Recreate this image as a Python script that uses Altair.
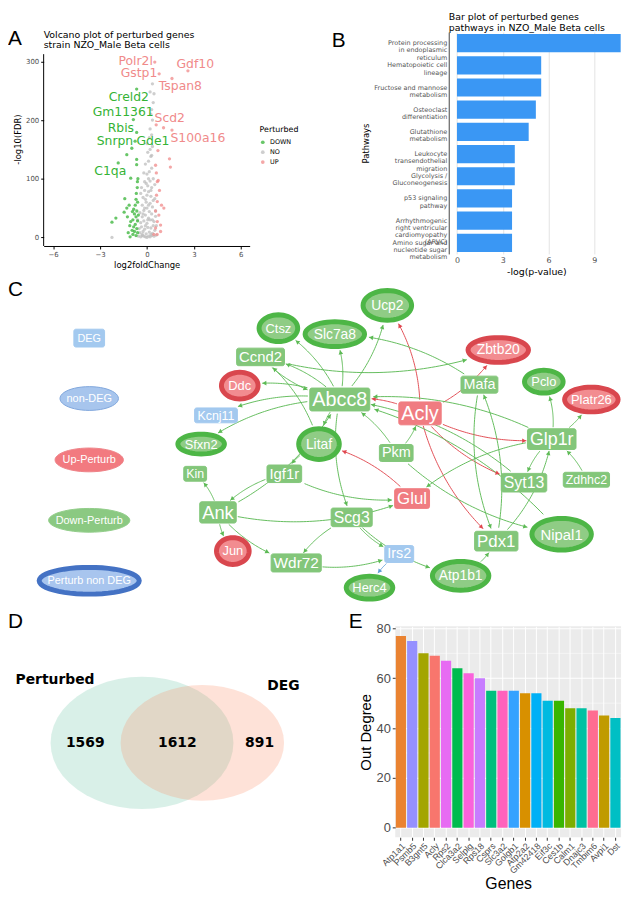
import math
import altair as alt
import pandas as pd

# ---------------- Panel A: volcano plot data ----------------
no_lfc = [-2.24, -0.55, -0.4, -0.3, -0.2, -0.1, 0.0, 0.1, 0.2, 0.3, 0.45, 0.6,
          -0.45, -0.25, -0.05, 0.15, 0.35, 0.5, -0.5, -0.35, -0.15, 0.05, 0.25, 0.4,
          -0.4, -0.2, 0.0, 0.2, 0.45, -0.3, -0.1, 0.1, 0.3, 0.55,
          -0.45, -0.2, 0.0, 0.15, 0.35, -0.3, -0.05, 0.2, 0.4,
          -0.25, 0.0, 0.25, 0.5, -0.15, 0.1, 0.3, -0.05, 0.2, 0.4,
          0.0, 0.15, 0.3, -0.1, 0.1, 0.25, 0.05, 0.2, 0.35,
          0.0, 0.15, 0.3, 0.2, 0.35, 0.25, 0.3, 0.4, 0.2, 0.35, 0.45,
          -0.15, -0.35, -0.4, 0.5, 0.55, 0.6, -0.6,
          -0.1, 0.05, -0.25, 0.1, -0.1, 0.25, 0.05, -0.3, 0.25, -0.15, 0.35, 0.1, -0.2, 0.3]
no_fdr = [0, 2, 1, 3, 2, 1, 0, 2, 1, 3, 2, 4,
          8, 10, 6, 9, 7, 12, 15, 18, 14, 17, 16, 20,
          25, 28, 24, 30, 27, 35, 38, 33, 40, 36,
          42, 46, 50, 44, 52, 55, 60, 58, 63,
          68, 72, 70, 66, 80, 78, 85, 92, 96, 100,
          108, 112, 118, 125, 130, 138, 145, 150, 155,
          160, 170, 175, 185, 200, 210, 218, 230, 248, 262, 245,
          95, 85, 75, 90, 45, 20, 30,
          20, 30, 40, 55, 65, 80, 88, 5, 5, 50, 30, 100, 110, 140]
down_lfc = [-2.24, -1.99, -1.42, -1.14, -1.29, -1.04, -0.93, -1.46, -1.08, -0.66, -0.66, -1.04,
            -0.61, -1.29, -1.84, -0.66, -0.87, -0.66, -0.76, -0.97,
            -0.9, -0.8, -0.7, -0.6, -0.85, -0.75, -0.65, -0.9, -0.7, -0.6, -0.8, -0.65,
            -0.75, -0.6, -0.7, -0.85, -0.55, -0.95, -0.68, -0.62, -1.2, -1.1, -1.25, -0.58]
down_fdr = [26, 33, 66, 55, 50, 27, 44, 43, 1, 133, 124, 101,
            95, 141, 127, 253, 201, 179, 164, 152,
            5, 10, 3, 8, 18, 22, 15, 30, 35, 28, 40, 45,
            55, 60, 65, 48, 38, 12, 75, 85, 8, 20, 35, 100]
up_lfc = [0.7, 1.44, 1.5, 0.55, 0.72, 0.66, 0.61, 0.66, 0.93, 1.08, 0.76, 0.66, 0.87,
          0.55, 0.87, 0.44, 0.6, 0.8, 0.55, 0.65,
          0.5, 2.62, 0.78, 1.6, 0.59, 1.6, 1.06]
up_fdr = [148, 134, 120, 123, 97, 95, 72, 61, 55, 50, 38, 27, 21,
          16, 10, 5, 110, 80, 45, 5,
          299, 284, 279, 271, 192, 183, 187]
label_genes = ["Polr2l", "Gdf10", "Gstp1", "Tspan8", "Creld2", "Gm11361",
               "Scd2", "Rbis", "S100a16", "Snrpn", "Gde1", "C1qa"]
label_group = ["UP", "UP", "UP", "UP", "DOWN", "DOWN",
               "UP", "DOWN", "UP", "DOWN", "DOWN", "DOWN"]
label_lfc = [-0.72, 3.09, -0.51, 2.14, -1.16, -1.52, 1.46, -1.67, 3.26, -2.05, 0.38, -2.35]
label_fdr = [301, 295, 280, 258, 240, 213, 204, 187, 169, 164, 164, 113]

# ---------------- Panel B: pathway bars ----------------
pathways = ["Protein processing|in endoplasmic|reticulum",
            "Hematopoietic cell|lineage",
            "Fructose and mannose|metabolism",
            "Osteoclast|differentiation",
            "Glutathione|metabolism",
            "Leukocyte|transendothelial|migration",
            "Glycolysis /|Gluconeogenesis",
            "p53 signaling|pathway",
            "Arrhythmogenic|right ventricular|cardiomyopathy|(ARVC)",
            "Amino sugar and|nucleotide sugar|metabolism"]
pathway_scores = [10.73, 5.52, 5.52, 5.17, 4.7, 3.79, 3.79, 3.61, 3.61, 3.61]

# ---------------- Panel C: network ----------------
node_names = ["DEG", "non-DEG", "Up-Perturb", "Down-Perturb", "Perturb non DEG",
              "Ctsz", "Slc7a8", "Ucp2", "Ccnd2", "Ddc", "Kcnj11", "Abcc8", "Acly",
              "Zbtb20", "Mafa", "Pclo", "Platr26", "Glp1r", "Sfxn2", "Litaf", "Pkm",
              "Igf1r", "Kin", "Syt13", "Zdhhc2", "Glul", "Ank", "Scg3", "Pdx1",
              "Nipal1", "Jun", "Wdr72", "Irs2", "Herc4", "Atp1b1"]
node_x = [90, 90, 90, 90, 90,
          281, 338, 391, 263, 242, 218, 343, 424,
          503, 484, 549, 597, 557, 203, 322, 400,
          287, 197, 529, 592, 416, 220, 355, 501,
          567, 235, 299, 403, 373, 465]
node_y = [336, 397, 459, 520, 581,
          326, 332, 303, 355, 384, 414, 398, 412,
          348, 383, 380, 398, 438, 443, 443, 452,
          473, 473, 482, 479, 498, 512, 517, 541,
          534, 551, 563, 554, 588, 576]
node_is_deg = [True, False, False, False, False,
               False, False, False, True, False, True, True, True,
               False, True, False, False, True, False, False, True,
               True, True, True, True, True, True, True, True,
               False, False, True, True, False, False]
node_dir = ["none", "none", "up_l", "down_l", "pnd",
            "down", "down", "down", "down", "up", "none", "down", "up",
            "up", "down", "down", "up", "down", "down", "down", "down",
            "down", "down", "down", "down", "up", "down", "down", "down",
            "down", "up", "down", "none", "down", "down"]
edge_src = ["Abcc8", "Abcc8", "Abcc8", "Abcc8", "Abcc8", "Abcc8", "Abcc8", "Abcc8", "Abcc8",
            "Ccnd2", "Ccnd2", "Litaf", "Litaf", "Acly", "Acly", "Acly", "Acly", "Acly", "Acly",
            "Pkm", "Pkm", "Pkm", "Glul", "Igf1r", "Igf1r", "Ank", "Ank", "Ank", "Ank", "Ank",
            "Scg3", "Scg3", "Wdr72", "Irs2", "Scg3", "Glp1r", "Glp1r", "Zdhhc2", "Glp1r",
            "Glp1r", "Glp1r", "Mafa", "Mafa", "Pdx1", "Syt13", "Nipal1", "Pdx1", "Atp1b1"]
edge_dst = ["Ctsz", "Slc7a8", "Ucp2", "Ccnd2", "Ddc", "Kcnj11", "Sfxn2", "Litaf", "Scg3",
            "Zbtb20", "Abcc8", "Ccnd2", "Igf1r", "Abcc8", "Ucp2", "Zbtb20", "Glp1r", "Syt13", "Pdx1",
            "Acly", "Abcc8", "Nipal1", "Litaf", "Glul", "Ank", "Kin", "Jun", "Wdr72", "Glul", "Abcc8",
            "Wdr72", "Irs2", "Irs2", "Herc4", "Atp1b1", "Pclo", "Platr26", "Glp1r", "Glul",
            "Abcc8", "Syt13", "Slc7a8", "Pdx1", "Mafa", "Abcc8", "Abcc8", "Glp1r", "Pdx1"]

# ---------------- Panel D: Venn ----------------
venn_sets = ["Perturbed", "DEG"]
venn_counts = [1569, 1612, 891]

# ---------------- Panel E: out degree ----------------
genes = ["Atp1a1", "Psmb5", "B3gnt5", "Acly", "Rps2", "Clca3a2", "Selplg", "Rps18",
         "Csprs", "Slc3a2", "Golgb1", "Atp2a2", "Gm42418", "Eif3c", "Ces1b", "Calm1",
         "Dnajc3", "Tmbim6", "Avpi1", "Dst"]
out_degree = [77, 75, 70, 69, 67, 64, 62, 60, 55, 55, 55, 54, 54, 51, 51, 48, 48, 47, 45, 44]
gene_colors = ["#EA8331", "#9590FF", "#A3A500", "#F8766D", "#E76BF3", "#00BB4E", "#FA62DB",
               "#C77CFF", "#00BF7D", "#FF62BC", "#35A2FF", "#D89000", "#00B0F6", "#00BAE0",
               "#39B600", "#7CAE00", "#00C1A3", "#FF6C91", "#C09B00", "#00BFC4"]

# =====================================================================
GG = "DejaVu Sans"
NF = "Liberation Sans"
GREEN = "#35B335"
GREY = "#BDBDBD"
SALMON = "#F08A8A"
LEFT = 36  # common left extent of every row (panel letters)


def letter(ch, x, y):
    return alt.Chart(pd.DataFrame({"t": [ch]})).mark_text(
        fontSize=21, font=NF, align="left", baseline="top", color="black"
    ).encode(x=alt.value(x), y=alt.value(y), text="t:N")


def heading(txt, y):
    return alt.Chart(pd.DataFrame({"t": [txt]})).mark_text(
        align="left", baseline="top", fontSize=9.5, font=GG, lineBreak="\n", lineHeight=10.5,
        color="black").encode(x=alt.value(0), y=alt.value(y), text="t:N")


# ---------------- Panel A ----------------
volc = pd.DataFrame({
    "lfc": no_lfc + down_lfc + up_lfc,
    "fdr": no_fdr + down_fdr + up_fdr,
    "Perturbed": ["NO"] * len(no_lfc) + ["DOWN"] * len(down_lfc) + ["UP"] * len(up_lfc),
})
labA = pd.DataFrame({"lfc": label_lfc, "fdr": label_fdr, "gene": label_genes,
                     "Perturbed": label_group})
cA = alt.Scale(domain=["DOWN", "NO", "UP"], range=[GREEN, GREY, SALMON])
xA = alt.X("lfc:Q", scale=alt.Scale(domain=[-6.61, 6.57], nice=False, zero=False),
           axis=alt.Axis(values=[-6, -3, 0, 3, 6], title="log2foldChange", grid=False,
                         domainColor="black", tickColor="black", tickSize=3,
                         labelFontSize=7, labelColor="#4D4D4D", labelFont=GG,
                         titleFont=GG, titleFontSize=8.5, titleFontWeight="normal",
                         titleColor="black", titlePadding=3, labelPadding=2))
yA = alt.Y("fdr:Q", scale=alt.Scale(domain=[-14.7, 350.2], nice=False, zero=False),
           axis=alt.Axis(values=[0, 100, 200, 300], title="-log10(FDR)", grid=False,
                         domain=False, tickColor="black", tickSize=3,
                         labelFontSize=7, labelColor="#4D4D4D", labelFont=GG,
                         titleFont=GG, titleFontSize=8.5, titleFontWeight="normal",
                         titleColor="black", titlePadding=3, labelPadding=2))
ruleA = alt.Chart(pd.DataFrame({"lfc": [-6.61], "fdr": [-14.7], "fdr2": [312.5]})).mark_rule(
    color="black", strokeWidth=1).encode(x=xA, y=yA, y2="fdr2:Q")
ptsA = alt.Chart(volc).mark_circle(size=11, opacity=0.75).encode(
    x=xA, y=yA,
    color=alt.Color("Perturbed:N", scale=cA,
                    legend=alt.Legend(orient="none", legendX=218, legendY=95,
                                      titleFontSize=8, titleFontWeight="normal",
                                      titleFont=GG, labelFont=GG, labelFontSize=6.5,
                                      symbolType="circle", symbolSize=14, rowPadding=3,
                                      titlePadding=5, labelColor="black")))
txtA = alt.Chart(labA).mark_text(fontSize=12.5, font=GG).encode(
    x=xA, y=yA, text="gene:N",
    color=alt.Color("Perturbed:N", scale=cA, legend=None))
panelA = alt.layer(
    ruleA, ptsA, txtA,
    heading("Volcano plot of perturbed genes\n strain NZO_Male Beta cells", -2),
    letter("A", -LEFT, -4)).properties(width=208, height=216)

# ---------------- Panel B ----------------
pw = pd.DataFrame({"Pathways": pathways, "score": pathway_scores})
barsB = alt.Chart(pw).mark_bar(color="#3A97F4").encode(
    x=alt.X("score:Q", scale=alt.Scale(domain=[-0.54, 10.95], nice=False, zero=False),
            axis=alt.Axis(values=[0, 3, 6, 9], title="-log(p-value)", grid=True,
                          gridColor="#E3E3E3", domain=False, ticks=False,
                          labelFontSize=8, labelColor="#4D4D4D", labelFont=GG,
                          titleFont=GG, titleFontSize=9.5, titleFontWeight="normal",
                          titleColor="black", titlePadding=2, labelPadding=3)),
    x2=alt.datum(0),
    y=alt.Y("Pathways:N", sort=pathways,
            scale=alt.Scale(paddingInner=0.18, paddingOuter=0.09),
            axis=alt.Axis(labelExpr="split(datum.value, '|')", ticks=False,
                          domainColor="#444444", labelFontSize=6.5, labelLineHeight=7.3,
                          labelColor="#555555", labelFont=GG, titleFont=GG,
                          titleFontSize=8.5, titleFontWeight="normal", titleColor="black",
                          titlePadding=3, labelPadding=2, labelLimit=200)),
)
panelB = alt.layer(
    barsB,
    heading("Bar plot of perturbed genes\n pathways in NZO_Male Beta cells", -20),
    letter("B", -118, -2)).properties(width=177, height=224)

row1 = alt.hconcat(panelA, panelB, spacing=33).resolve_scale(color="independent")

# ---------------- Panel C ----------------
NET_X0, NET_X1 = 8 + LEFT, 628
NET_Y0, NET_Y1 = 276, 602
FS = {"DEG": 11, "non-DEG": 11, "Up-Perturb": 11, "Down-Perturb": 11, "Perturb non DEG": 11,
      "Ctsz": 13, "Slc7a8": 14, "Ucp2": 14, "Ccnd2": 15, "Ddc": 13, "Kcnj11": 12.5,
      "Abcc8": 20, "Acly": 20, "Zbtb20": 14, "Mafa": 14.5, "Pclo": 13, "Platr26": 13,
      "Glp1r": 18, "Sfxn2": 13, "Litaf": 14, "Pkm": 14.5, "Igf1r": 15, "Kin": 12.5,
      "Syt13": 16, "Zdhhc2": 12.5, "Glul": 17, "Ank": 18.5, "Scg3": 16, "Pdx1": 17,
      "Nipal1": 15, "Jun": 13, "Wdr72": 15.5, "Irs2": 14.5, "Herc4": 13, "Atp1b1": 14}
ELL = {"non-DEG": (60, 25), "Up-Perturb": (70, 25), "Down-Perturb": (83, 25),
       "Perturb non DEG": (106, 32), "Ctsz": (44, 32), "Slc7a8": (65, 30), "Ucp2": (54, 35),
       "Ddc": (42, 32), "Sfxn2": (52, 25), "Litaf": (46, 36), "Zbtb20": (66, 30),
       "Pclo": (44, 28), "Platr26": (59, 30), "Nipal1": (65, 37), "Jun": (38, 32),
       "Atp1b1": (62, 34), "Herc4": (52, 28)}
CW = {"C": .722, "D": .722, "G": .778, "U": .722, "W": .944, "I": .278, "M": .833, "N": .722,
      "H": .722, "J": .5, "Z": .611, "c": .5, "f": .278, "i": .222, "j": .222, "l": .222,
      "m": .833, "r": .333, "s": .5, "t": .278, "k": .5, "y": .5, "x": .5, "z": .5, "v": .5,
      "w": .722, "-": .333, " ": .278}


def text_w(s, fs):
    return sum(CW.get(ch, 0.556 if (ch.islower() or ch.isdigit()) else 0.667) for ch in s) * fs


def ell_path(r, n=48):
    pts = []
    for i in range(n):
        a = 2 * math.pi * i / n
        pts.append(f"{math.cos(a):.4f},{r * math.sin(a):.4f}")
    return "M" + "L".join(pts) + "Z"


def node_style(deg, d):
    if deg:
        fill = {"up": "#F07C81", "down": "#83C67A", "none": "#A3C9EF"}[d]
        return fill, fill, 1
    return {"up": ("#F28C90", "#D9474E", 5), "down": ("#8FCC85", "#4DB646", 5),
            "none": ("#A7C5ED", "#7FA6DC", 1), "up_l": ("#F27A80", "#EE8489", 1),
            "down_l": ("#8BC982", "#93CD8B", 1), "pnd": ("#A8C5EE", "#4472C4", 5)}[d]


nodes = {}
rect_rows, ell_rows, txt_rows = [], [], []
for nm, cx, cy, deg, d in zip(node_names, node_x, node_y, node_is_deg, node_dir):
    fs = FS[nm]
    fill, stroke, sw = node_style(deg, d)
    if deg:
        if nm == "DEG":
            w, h = 31, 18
        else:
            w, h = text_w(nm, fs) + 5, fs * 1.08 + 1.5
        rect_rows.append({"x0": cx - w / 2, "x1": cx + w / 2, "y0": cy - h / 2, "y1": cy + h / 2,
                          "fill": fill, "stroke": stroke})
    else:
        w, h = ELL[nm]
        iw, ih = w - sw, h - sw
        ell_rows.append({"x": cx, "y": cy, "shape": ell_path(ih / iw), "size": iw * iw,
                         "fill": fill, "stroke": stroke, "sw": sw})
    nodes[nm] = (cx, cy, w, h, deg)
    txt_rows.append({"x": cx, "y": cy + 0.5, "label": nm, "fs": fs})


def inside(nm, px, py):
    cx, cy, w, h, deg = nodes[nm]
    if deg:
        return abs(px - cx) <= w / 2 + 1 and abs(py - cy) <= h / 2 + 1
    return ((px - cx) / (w / 2 + 1)) ** 2 + ((py - cy) / (h / 2 + 1)) ** 2 <= 1


def edge_color(nm):
    i = node_names.index(nm)
    if node_dir[i] == "up":
        return "#E0464E"
    if node_dir[i] == "none":
        return "#5B9BD5"
    return "#5DBA55"


line_rows, arrow_rows = [], []
for eid, (s, t) in enumerate(zip(edge_src, edge_dst)):
    x0, y0 = nodes[s][0], nodes[s][1]
    x2, y2 = nodes[t][0], nodes[t][1]
    dx, dy = x2 - x0, y2 - y0
    k = 0.16
    x1, y1 = (x0 + x2) / 2 - k * dy, (y0 + y2) / 2 + k * dx
    pts = []
    n = 60
    for i in range(n + 1):
        u = i / n
        px = (1 - u) ** 2 * x0 + 2 * (1 - u) * u * x1 + u ** 2 * x2
        py = (1 - u) ** 2 * y0 + 2 * (1 - u) * u * y1 + u ** 2 * y2
        pts.append((px, py))
    i0 = 0
    while i0 < n and inside(s, *pts[i0]):
        i0 += 1
    i1 = n
    while i1 > 0 and inside(t, *pts[i1]):
        i1 -= 1
    col = edge_color(s)
    for j in range(i0, i1 + 1):
        line_rows.append({"x": pts[j][0], "y": pts[j][1], "eid": eid, "k": j, "col": col})
    ddx = pts[i1][0] - pts[i1 - 1][0]
    ddy = pts[i1][1] - pts[i1 - 1][1]
    ln = math.hypot(ddx, ddy) or 1
    ang = math.degrees(math.atan2(ddx, -ddy)) % 360
    arrow_rows.append({"x": pts[i1][0] - 2.2 * ddx / ln, "y": pts[i1][1] - 2.2 * ddy / ln,
                       "ang": ang, "col": col})


def NX(f):
    return alt.X(f"{f}:Q", scale=alt.Scale(domain=[NET_X0, NET_X1], nice=False, zero=False), axis=None)


def NY(f):
    return alt.Y(f"{f}:Q", scale=alt.Scale(domain=[NET_Y0, NET_Y1], nice=False, zero=False,
                                           reverse=True), axis=None)


edgesC = alt.Chart(pd.DataFrame(line_rows)).mark_line(strokeWidth=1, opacity=0.95).encode(
    x=NX("x"), y=NY("y"), detail="eid:N", order="k:Q", stroke=alt.Stroke("col:N", scale=None))
arrowsC = alt.Chart(pd.DataFrame(arrow_rows)).mark_point(
    shape="triangle-up", size=22, filled=True, opacity=1).encode(
    x=NX("x"), y=NY("y"), angle=alt.Angle("ang:Q", scale=None),
    fill=alt.Fill("col:N", scale=None))
rectC = alt.Chart(pd.DataFrame(rect_rows)).mark_rect(cornerRadius=2, strokeWidth=1).encode(
    x=NX("x0"), x2="x1:Q", y=NY("y0"), y2="y1:Q",
    fill=alt.Fill("fill:N", scale=None), stroke=alt.Stroke("stroke:N", scale=None))
ellC = alt.Chart(pd.DataFrame(ell_rows)).mark_point(filled=True, opacity=1).encode(
    x=NX("x"), y=NY("y"), shape=alt.Shape("shape:N", scale=None),
    size=alt.Size("size:Q", scale=None), fill=alt.Fill("fill:N", scale=None),
    stroke=alt.Stroke("stroke:N", scale=None), strokeWidth=alt.StrokeWidth("sw:Q", scale=None))
txtC = alt.Chart(pd.DataFrame(txt_rows)).mark_text(font=NF, color="white", baseline="middle").encode(
    x=NX("x"), y=NY("y"), text="label:N", size=alt.Size("fs:Q", scale=None))
panelC = alt.layer(edgesC, arrowsC, rectC, ellC, txtC, letter("C", -LEFT, 0)).properties(
    width=NET_X1 - NET_X0, height=NET_Y1 - NET_Y0)

# ---------------- Panel D ----------------
DX0, DX1 = 8 + LEFT, 340
DY0, DY1 = 629, 842
venn_shapes = pd.DataFrame({"x": [143.3, 204.2], "y": [746.7, 746.7],
                            "shape": [ell_path(0.723), ell_path(0.707)],
                            "size": [184.6 ** 2, 165.0 ** 2],
                            "fill": ["#66C2A5", "#FC8D62"]})
venn_names = pd.DataFrame({"x": [55.5, 286.0], "y": [683.0, 689.0], "t": venn_sets})
venn_nums = pd.DataFrame({"x": [86.0, 179.0, 262.0], "y": [747.0, 747.0, 747.0],
                          "t": [str(v) for v in venn_counts]})


def DX(f):
    return alt.X(f"{f}:Q", scale=alt.Scale(domain=[DX0, DX1], nice=False, zero=False), axis=None)


def DYs(f):
    return alt.Y(f"{f}:Q", scale=alt.Scale(domain=[DY0, DY1], nice=False, zero=False,
                                           reverse=True), axis=None)


ellD = alt.Chart(venn_shapes).mark_point(filled=True, opacity=0.25, strokeWidth=0).encode(
    x=DX("x"), y=DYs("y"), shape=alt.Shape("shape:N", scale=None),
    size=alt.Size("size:Q", scale=None), fill=alt.Fill("fill:N", scale=None))
namesD = alt.Chart(venn_names).mark_text(font=GG, fontWeight="bold", fontSize=14,
                                         color="black").encode(x=DX("x"), y=DYs("y"), text="t:N")
numsD = alt.Chart(venn_nums).mark_text(font=GG, fontWeight="bold", fontSize=14,
                                       color="black").encode(x=DX("x"), y=DYs("y"), text="t:N")
panelD = alt.layer(ellD, namesD, numsD, letter("D", -LEFT, -15)).properties(
    width=DX1 - DX0, height=DY1 - DY0)

# ---------------- Panel E ----------------
ed = pd.DataFrame({"gene": genes, "deg": out_degree, "col": gene_colors})
yE = alt.Y("deg:Q", scale=alt.Scale(domain=[-3.85, 80.85], nice=False, zero=False),
           axis=alt.Axis(title="Out Degree", values=[0, 20, 40, 60, 80], grid=True,
                         gridColor="white", gridWidth=1.1, domain=False, tickColor="#333333",
                         tickSize=3, labelFontSize=13, labelColor="#4D4D4D", labelFont=NF,
                         titleFont=NF, titleFontSize=15, titleFontWeight="normal",
                         titleColor="black", titlePadding=3, labelPadding=2))
xE = alt.X("gene:N", sort=genes, scale=alt.Scale(paddingInner=0.1, paddingOuter=0.05),
           axis=alt.Axis(title="Genes", labelAngle=315, labelAlign="right", labelBaseline="top",
                         labelFontSize=9, labelColor="#4D4D4D", labelFont=NF, tickColor="#333333",
                         tickSize=3, domain=False, grid=True, gridColor="white", bandPosition=0.5,
                         titleFont=NF, titleFontSize=16, titleFontWeight="normal",
                         titleColor="black", titlePadding=0, labelPadding=1))
minorE = alt.Chart(pd.DataFrame({"deg": [10, 30, 50, 70]})).mark_rule(
    color="white", strokeWidth=0.5).encode(y=yE)
barsE = alt.Chart(ed).mark_bar().encode(
    x=xE, y=yE, y2=alt.datum(0), fill=alt.Fill("col:N", scale=None))
panelE = alt.layer(minorE, barsE, letter("E", -47, -15)).properties(
    width=228, height=DY1 - DY0, view=alt.ViewBackground(fill="#EBEBEB", stroke="#EBEBEB"))

row3 = alt.hconcat(panelD, panelE, spacing=12)

chart = alt.concat(row1, panelC, row3, columns=1, spacing=2).properties(
    padding=0).resolve_scale(color="independent").configure_view(strokeWidth=0)

chart.save("out.html", embed_options={"renderer": "svg", "actions": False})
